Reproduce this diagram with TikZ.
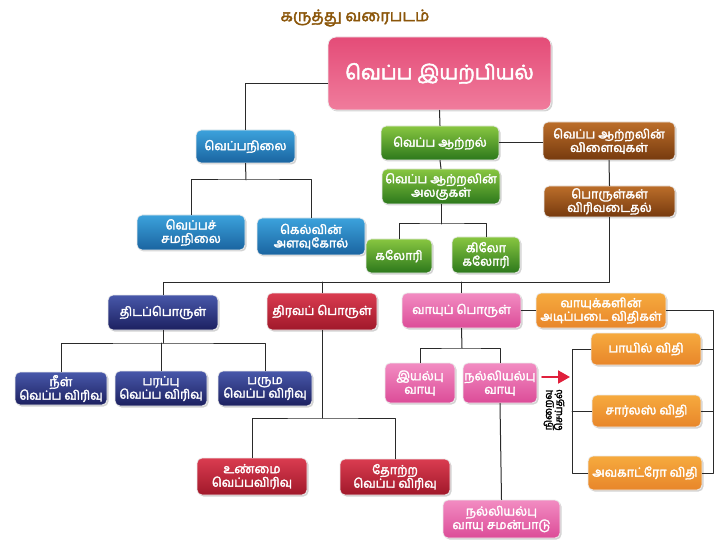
\documentclass[tikz,border=0pt]{standalone}
\usepackage{fontspec}
\newfontfamily\tamil[Script=Tamil]{Hind Madurai}
\newfontfamily\tamilbf[Script=Tamil,FakeBold=2.5]{Hind Madurai}
\usepackage{tikz}
\usetikzlibrary{shapes,positioning,calc,arrows,arrows.meta,shadows}
\usepackage{xcolor}
\definecolor{titlebrown}{HTML}{8B560A}
\definecolor{linegray}{HTML}{2A2A2A}
\definecolor{maintop}{HTML}{E44C78}
\definecolor{mainbot}{HTML}{F07C9C}
\definecolor{temptop}{HTML}{3CA2DC}
\definecolor{tempbot}{HTML}{1A64A0}
\definecolor{heattop}{HTML}{88C640}
\definecolor{heatbot}{HTML}{2C781C}
\definecolor{efftop}{HTML}{BC6E2A}
\definecolor{effbot}{HTML}{763A0E}
\definecolor{solidtop}{HTML}{4858AA}
\definecolor{solidbot}{HTML}{1C2060}
\definecolor{liqtop}{HTML}{DA3C50}
\definecolor{liqbot}{HTML}{A0182A}
\definecolor{gastop}{HTML}{F28CC2}
\definecolor{gasbot}{HTML}{DC4C98}
\definecolor{lawtop}{HTML}{F6AA3E}
\definecolor{lawbot}{HTML}{E8862A}
\definecolor{arrowred}{HTML}{E0203C}

\begin{document}
\begin{tikzpicture}[x=1pt,y=-1pt,font=\tamilbf\fontsize{12.5}{13.5}\selectfont,line cap=round,line join=round,>=triangle 45,
box/.style={rounded corners=5pt,draw=white!85!gray,line width=0.8pt,text=white,align=center,inner sep=1pt,drop shadow={opacity=0.35,shadow xshift=1.5pt,shadow yshift=-1.5pt}},
mainbox/.style={box,top color=maintop,bottom color=mainbot,rounded corners=8pt},
tempbox/.style={box,top color=temptop,bottom color=tempbot},
heatbox/.style={box,top color=heattop,bottom color=heatbot},
effectbox/.style={box,top color=efftop,bottom color=effbot},
solidbox/.style={box,top color=solidtop,bottom color=solidbot},
liquidbox/.style={box,top color=liqtop,bottom color=liqbot},
gasbox/.style={box,top color=gastop,bottom color=gasbot},
lawbox/.style={box,top color=lawtop,bottom color=lawbot},
link/.style={draw=linegray,line width=1pt}]
\useasboundingbox (0,0) rectangle (723,556);
% title and root
\node[text=titlebrown,font=\tamilbf\fontsize{16}{17}\selectfont] (title) at (355,18) {கருத்து வரைபடம்};
\node[mainbox,minimum width=223pt,minimum height=73pt,font=\tamilbf\fontsize{20}{22}\selectfont] (main) at (439.5,73.5) {வெப்ப இயற்பியல்};
% temperature branch
\node[tempbox,minimum width=99pt,minimum height=33pt] (temp) at (245.5,146.5) {வெப்பநிலை};
\node[tempbox,minimum width=108pt,minimum height=35pt] (eqm) at (191,232.5) {வெப்பச்\\சமநிலை};
\node[tempbox,minimum width=108pt,minimum height=37pt] (kelvin) at (311,236.5) {கெல்வின்\\அளவுகோல்};
% heat energy branch
\node[heatbox,minimum width=118pt,minimum height=34pt] (heat) at (440,143) {வெப்ப ஆற்றல்};
\node[heatbox,minimum width=118pt,minimum height=35pt] (units) at (441,186.5) {வெப்ப ஆற்றலின்\\அலகுகள்};
\node[heatbox,minimum width=66pt,minimum height=34pt] (cal) at (399,256) {கலோரி};
\node[heatbox,minimum width=68pt,minimum height=36pt] (kcal) at (486,255) {கிலோ\\கலோரி};
\node[effectbox,minimum width=132pt,minimum height=38pt] (effect) at (609,141) {வெப்ப ஆற்றலின்\\விளைவுகள்};
\node[effectbox,minimum width=131pt,minimum height=31pt] (expand) at (609.5,201.5) {பொருள்கள்\\விரிவடைதல்};
% states of matter
\node[solidbox,minimum width=110pt,minimum height=35pt] (solid) at (163,312.5) {திடப்பொருள்};
\node[liquidbox,minimum width=110pt,minimum height=37pt] (liquid) at (322,311.5) {திரவப் பொருள்};
\node[gasbox,minimum width=119pt,minimum height=35pt] (gas) at (461.5,310.5) {வாயுப் பொருள்};
\node[lawbox,minimum width=130pt,minimum height=35pt] (laws) at (601,310.5) {வாயுக்களின்\\அடிப்படை விதிகள்};
\node[solidbox,minimum width=92pt,minimum height=33pt] (linear) at (61,388.5) {நீள்\\வெப்ப விரிவு};
\node[solidbox,minimum width=92pt,minimum height=35pt] (area) at (161,388.5) {பரப்பு\\வெப்ப விரிவு};
\node[solidbox,minimum width=94pt,minimum height=35pt] (volume) at (265,388.5) {பரும\\வெப்ப விரிவு};
\node[liquidbox,minimum width=110pt,minimum height=37pt] (real) at (252,476.5) {உண்மை\\வெப்பவிரிவு};
\node[liquidbox,minimum width=110pt,minimum height=36pt] (apparent) at (395,477) {தோற்ற\\வெப்ப விரிவு};
\node[gasbox,minimum width=70pt,minimum height=40pt] (realgas) at (420,383) {இயல்பு\\வாயு};
\node[gasbox,minimum width=74pt,minimum height=40pt] (ideal) at (500,383) {நல்லியல்பு\\வாயு};
\node[gasbox,minimum width=117pt,minimum height=38pt] (idealeq) at (501.5,519) {நல்லியல்பு\\வாயு சமன்பாடு};
\node[lawbox,minimum width=110pt,minimum height=32pt] (boyle) at (646,349) {பாயில் விதி};
\node[lawbox,minimum width=109pt,minimum height=32pt] (charles) at (646.5,411) {சார்லஸ் விதி};
\node[lawbox,minimum width=114pt,minimum height=34pt] (avogadro) at (645,473) {அவகாட்ரோ விதி};
\node[rotate=90,align=center,inner sep=0pt,font=\tamilbf\fontsize{10}{10.5}\selectfont] (fulfil) at (554,410) {நிறைவு\\செய்தல்};
% bus points
\coordinate (tempbus) at (246,180);
\coordinate (unitsbus) at (441,224);
\coordinate (statebus) at (163,282);
\coordinate (solidbus) at (163,343);
\coordinate (liquidbus) at (322,418);
\coordinate (gasbus) at (462,348);
\coordinate (rightrail) at (713,473);
\coordinate (leftrail) at (572,411);
\coordinate (arrowtail) at (542,377);
\coordinate (arrowhead) at (570,377);
% connectors
\begin{scope}[link]
\draw ($(main.west)+(0,10.5)$) -| (temp.north);
\draw (temp.south) -- (tempbus);
\draw (eqm.north) |- (tempbus) -| (kelvin.north);
\draw (main.south) -- (heat.north);
\draw (heat.south) -- (units.north);
\draw (units.south) -- (unitsbus);
\draw (cal.north) |- (unitsbus) -| (kcal.north);
\draw (heat.east) -- (heat.east -| effect.west);
\draw (effect.south) -- (expand.north);
\draw (expand.south) |- (statebus) -- (solid.north);
\draw (liquid.north) -- (liquid.north |- statebus);
\draw (gas.north) -- (gas.north |- statebus);
\draw (solid.south) -- (solidbus);
\draw (linear.north) |- (solidbus) -| (volume.north);
\draw (area.north) -- (area.north |- solidbus);
\draw (liquid.south) -- (liquidbus);
\draw (real.north) |- (liquidbus) -| (apparent.north);
\draw (gas.south) -- (gasbus);
\draw (realgas.north) |- (gasbus) -| (ideal.north);
\draw (ideal.south) -- (idealeq.north);
\draw (gas.east) -- (laws.west);
\draw (laws.east) -| (rightrail) -- (avogadro.east);
\draw (boyle.east) -- (boyle.east -| rightrail);
\draw (charles.east) -- (charles.east -| rightrail);
\draw (boyle.west) -| (leftrail |- avogadro.west) -- (avogadro.west);
\draw (charles.west) -- (charles.west -| leftrail);
\end{scope}
\draw[-{Triangle[length=12pt,width=13pt]},color=arrowred,line width=2pt] (arrowtail) -- (arrowhead);
\end{tikzpicture}
\end{document}
